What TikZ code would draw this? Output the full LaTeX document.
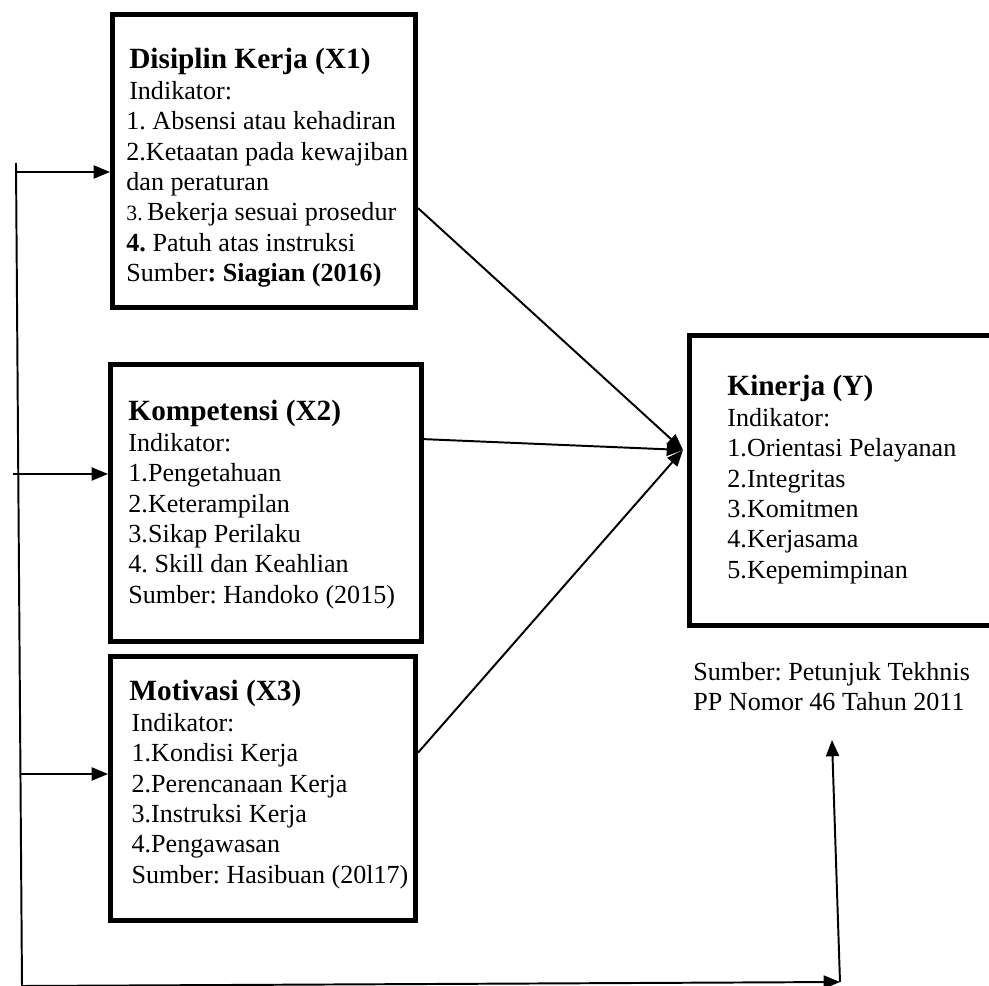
\documentclass[tikz,border=0pt]{standalone}
\usepackage{fontspec}
\setmainfont{Liberation Serif}
\usetikzlibrary{arrows.meta}
\frenchspacing
\newcommand{\judul}[1]{{\fontsize{13.5}{14}\selectfont\bfseries #1}}

\begin{document}
\begin{tikzpicture}[x=0.46pt,y=-0.46pt]
  \tikzset{kotak/.style={draw,line width=2.3pt,inner sep=0pt},
    isi/.style={anchor=north west,inner sep=0pt,align=left,font=\fontsize{12}{14}\selectfont},
    panah/.style={line width=0.9pt,-{Triangle[length=7.5pt,width=6pt]}}}
  \useasboundingbox (0,0) rectangle (989,986);
  \node[kotak,minimum width=139.4pt,minimum height=134.8pt] (x1) at (264,161) {};
  \node[kotak,minimum width=143.1pt,minimum height=127.4pt] (x2) at (266,503) {};
  \node[kotak,minimum width=140.3pt,minimum height=121.4pt] (x3) at (263,788.5) {};
  \node[kotak,minimum width=147.4pt,minimum height=133.4pt] (y) at (849.75,480.5) {};
  \node[isi] (x1isi) at (126,48) {\judul{\hspace{1.3pt}Disiplin Kerja (X1)}\\
    \hspace{1.3pt}Indikator:\\
    1. Absensi atau kehadiran\\
    2.Ketaatan pada kewajiban\\
    dan peraturan\\
    {\fontsize{10}{14}\selectfont 3.}\,Bekerja sesuai prosedur\\
    \textbf{4.} Patuh atas instruksi\\
    Sumber\textbf{: Siagian (2016)}};
  \node[isi] (x2isi) at (128,400) {\judul{Kompetensi (X2)}\\
    Indikator:\\
    1.Pengetahuan\\
    2.Keterampilan\\
    3.Sikap Perilaku\\
    4. Skill dan Keahlian\\
    Sumber: Handoko (2015)};
  \node[isi] (x3isi) at (129,680) {\judul{Motivasi (X3)}\\
    \hspace{1pt}Indikator:\\
    \hspace{1pt}1.Kondisi Kerja\\
    \hspace{1pt}2.Perencanaan Kerja\\
    \hspace{1pt}3.Instruksi Kerja\\
    \hspace{1pt}4.Pengawasan\\
    \hspace{1pt}Sumber: Hasibuan (20l17)};
  \node[isi] (yisi) at (727,375) {\judul{Kinerja (Y)}\\
    Indikator:\\
    1.Orientasi Pelayanan\\
    2.Integritas\\
    3.Komitmen\\
    4.Kerjasama\\
    5.Kepemimpinan};
  \node[isi] (sumber) at (693,662) {Sumber: Petunjuk Tekhnis\\
    PP Nomor 46 Tahun 2011};
  \coordinate (temu) at (683,450);
  \draw[panah] (x1.-17) -- (temu);
  \draw[panah] (x2.22) -- (temu);
  \draw[panah] (x3.13) -- (temu);
  \coordinate (ka) at (16,163);
  \coordinate (kb) at (22,986);
  \coordinate (kk) at (840,982);
  \coordinate (ujung) at (832,740);
  \coordinate (a1) at (16,172);
  \coordinate (a2) at (13,474);
  \coordinate (a3) at (20,774);
  \draw[line width=0.9pt] (ka) -- (kb);
  \draw[panah] (a1) -- (a1 -| x1.west);
  \draw[panah] (a2) -- (a2 -| x2.west);
  \draw[panah] (a3) -- (a3 -| x3.west);
  \draw[panah] (kb) -- (kk);
  \draw[panah] (kk) -- (ujung);
\end{tikzpicture}
\end{document}
